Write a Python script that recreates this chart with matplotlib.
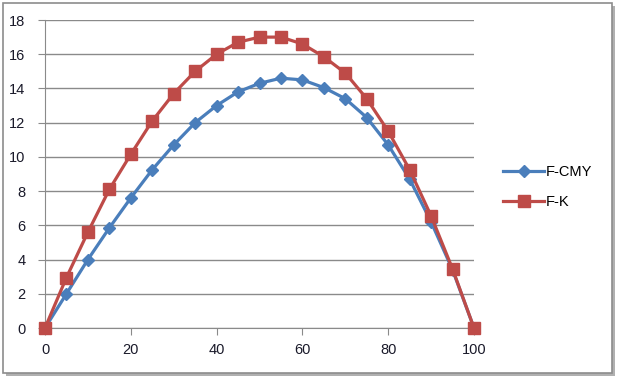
import matplotlib
matplotlib.use("Agg")
import matplotlib.pyplot as plt
from matplotlib.patches import Rectangle

x = [0, 5, 10, 15, 20, 25, 30, 35, 40, 45, 50, 55, 60, 65, 70, 75, 80, 85, 90, 95, 100]
f_cmy = [0, 2.0, 4.0, 5.85, 7.6, 9.25, 10.7, 12.0, 13.0, 13.8, 14.3, 14.6, 14.5, 14.05,
         13.4, 12.3, 10.7, 8.7, 6.2, 3.4, 0]
f_k = [0, 2.95, 5.6, 8.1, 10.15, 12.1, 13.7, 15.0, 16.0, 16.7, 17.0, 17.0, 16.6, 15.85,
       14.9, 13.4, 11.5, 9.25, 6.55, 3.45, 0]
series_names = ["F-CMY", "F-K"]
xticks = [0, 20, 40, 60, 80, 100]
yticks = [0, 2, 4, 6, 8, 10, 12, 14, 16, 18]

plt.rcParams['font.family'] = ['Liberation Sans', 'DejaVu Sans']

W, H = 618, 378
fig = plt.figure(figsize=(W / 100, H / 100), dpi=100)
fig.patch.set_facecolor('white')

# outer frame with shadow
fig.patches.append(Rectangle((6 / W, 1 - 376 / H), 609 / W, 370 / H, transform=fig.transFigure,
                             facecolor='#b0b0b0', edgecolor='none', zorder=-3))
fig.patches.append(Rectangle((3 / W, 1 - 373 / H), 609 / W, 370 / H, transform=fig.transFigure,
                             facecolor='white', edgecolor='#8c8c8c', linewidth=1.2, zorder=-2))

ax = fig.add_axes([45 / W, 1 - 328 / H, (474 - 45) / W, (328 - 20) / H])
ax.set_facecolor('none')

blue = '#4A7EBB'
red = '#BE4B48'
ax.plot(x, f_cmy, color=blue, lw=2.3, marker='D', ms=6.5, mec=blue, mfc=blue,
        label=series_names[0], zorder=3, clip_on=False)
ax.plot(x, f_k, color=red, lw=2.3, marker='s', ms=8, mec=red, mfc=red,
        label=series_names[1], zorder=4, clip_on=False)

ax.set_xlim(0, 100)
ax.set_ylim(0, 18)
ax.set_xticks(xticks)
ax.set_yticks(yticks)
ax.grid(axis='y', color='#8a8a8a', lw=1)
ax.set_axisbelow(True)
for s in ['top', 'right']:
    ax.spines[s].set_visible(False)
for s in ['left', 'bottom']:
    ax.spines[s].set_color('#8a8a8a')
ax.tick_params(axis='both', direction='out', color='#8a8a8a', length=5, labelsize=10.5,
               labelcolor='#1a1a2a')
ax.tick_params(axis='y', pad=9)
ax.tick_params(axis='x', pad=6)

leg = ax.legend(loc='center left', bbox_to_anchor=(490 / W, 1 - 187 / H),
                bbox_transform=fig.transFigure, frameon=False, fontsize=10.5,
                handlelength=2.8, labelspacing=1.1, handletextpad=0.1)

fig.savefig('out.png', dpi=100)
